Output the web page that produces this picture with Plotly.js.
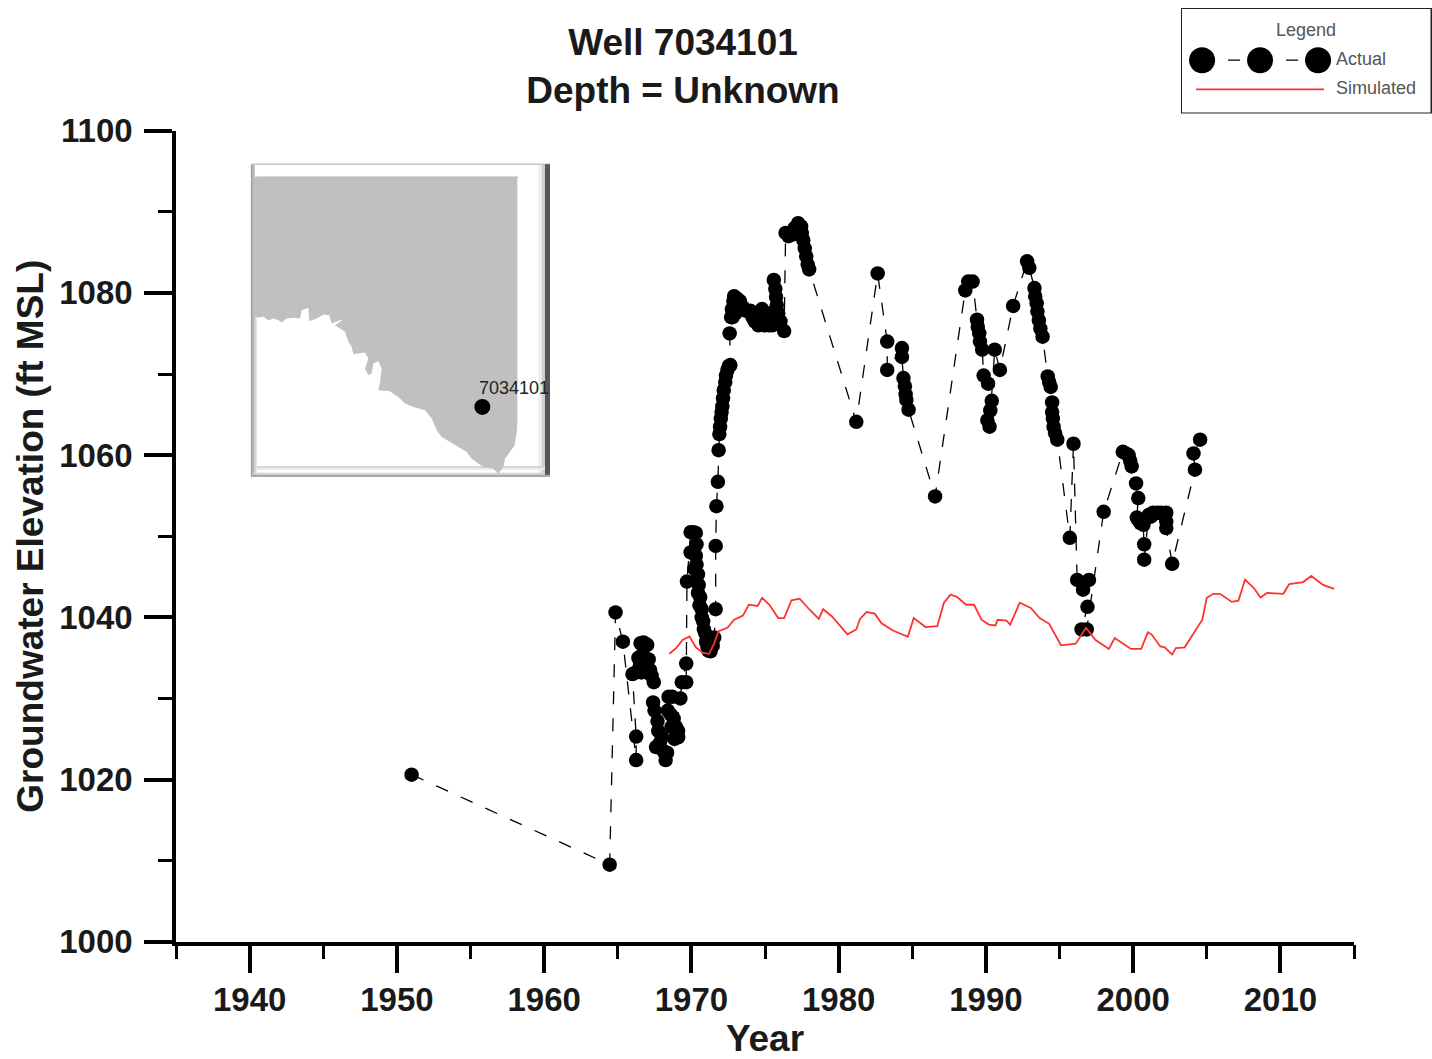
<!DOCTYPE html>
<html>
<head>
<meta charset="utf-8">
<script src="https://cdn.plot.ly/plotly-3.0.1.min.js"></script>
<style>html,body{margin:0;padding:0;background:#fff}#chart{width:1432px;height:1059px}</style>
</head>
<body>
<div id="chart"></div>
<script>
const actualYear = [1951.0,1964.45,1964.85,1965.35,1966.25,1966.25,
 1966.0,1966.3,1966.5,1966.4,1966.55,1966.75,1967.0,1966.7,1966.85,1966.6,1967.0,1967.1,1967.2,1967.3,1967.45,
 1967.4,1967.5,1967.7,1967.75,1967.6,1967.85,1968.0,1968.1,1968.25,1968.35,1968.45,1968.7,1968.4,1968.6,1968.8,1968.65,1968.95,1969.1,1969.1,1968.85,1969.25,1969.35,1969.65,1969.65,
 1969.7,1969.95,1970.15,1970.3,1970.35,1969.95,1970.15,1970.3,1970.35,1970.2,1970.45,1970.3,1970.5,1970.45,1970.6,1970.55,1970.7,1970.7,1970.8,1970.85,1970.95,1971.0,1971.1,1971.15,1971.3,1971.45,1971.55,
 1971.65,1971.65,1971.7,1971.8,1971.85,1971.9,1971.95,1972.0,1972.05,1972.1,1972.15,1972.2,1972.3,1972.35,1972.45,1972.55,1972.65,
 1972.6,1972.7,1972.75,1972.85,1972.9,1973.1,1973.3,1972.8,1973.0,1973.5,1973.7,1974.0,1974.15,1974.3,1974.55,1974.6,1974.8,1975.0,1975.0,1975.3,1975.4,1975.5,1975.6,1975.7,1975.75,1975.8,1975.9,1976.05,1976.3,
 1976.4,1976.6,1976.85,1977.0,1977.25,1977.45,1977.5,1977.6,1977.7,1977.8,1977.9,1978.0,
 1981.2,1982.65,1983.3,1983.3,1984.3,1984.3,1984.4,1984.5,1984.55,1984.6,1984.75,
 1986.55,1988.6,1988.8,1989.1,1989.4,1989.45,1989.55,1989.6,1989.75,1989.85,1990.15,1990.4,1990.3,1990.1,1990.25,1990.6,1990.95,
 1991.85,1992.8,1992.95,1993.3,1993.35,1993.45,1993.5,1993.6,1993.7,1993.85,1994.2,1994.3,1994.4,1994.5,1994.5,1994.55,1994.6,1994.7,1994.85,
 1995.7,1995.95,1996.2,1997.0,1996.6,1996.9,1996.5,1996.85,
 1998.0,1999.3,1999.5,1999.7,1999.8,1999.9,2000.2,2000.35,2000.25,2000.35,2000.5,2000.7,2000.75,2000.75,2001.05,2001.2,2001.35,2001.5,2001.65,2001.9,2002.1,2002.25,2002.25,2002.25,2002.65,
 2004.2,2004.1,2004.55];
const actualElev = [1020.6,1009.5,1040.6,1037.0,1022.4,1025.3,
 1033.0,1033.3,1034.0,1035.0,1036.8,1036.9,1036.6,1035.5,1034.5,1033.2,1033.2,1034.8,1033.5,1032.8,1032.0,
 1029.5,1028.5,1027.2,1026.0,1024.0,1024.5,1025.2,1023.5,1022.4,1023.3,1030.2,1030.2,1028.5,1028.0,1027.5,1026.5,1026.5,1026.0,1025.2,1025.0,1030.0,1032.0,1034.3,1032.0,
 1044.4,1050.5,1050.5,1050.4,1049.0,1048.0,1048.0,1047.6,1046.5,1046.0,1045.3,1044.5,1044.0,1043.0,1042.5,1041.5,1041.0,1040.0,1039.5,1038.5,1038.0,1037.0,1036.3,1035.9,1035.8,1036.5,1037.5,
 1041.0,1048.8,1053.7,1056.7,1060.6,1062.6,1063.5,1064.5,1065.3,1066.0,1067.0,1068.0,1069.0,1069.8,1070.5,1071.0,1071.1,
 1075.0,1077.0,1078.0,1079.0,1079.6,1079.3,1079.0,1077.0,1077.5,1078.2,1077.8,1077.8,1077.0,1076.5,1076.0,1077.5,1078.0,1077.5,1076.0,1076.0,1077.5,1076.0,1081.6,1080.5,1079.5,1078.5,1077.5,1076.5,1075.3,
 1087.4,1087.0,1087.2,1088.0,1088.6,1088.2,1087.4,1086.5,1085.5,1084.5,1083.5,1082.9,
 1064.1,1082.4,1074.0,1070.5,1073.2,1072.1,1069.5,1068.5,1067.5,1066.8,1065.6,
 1054.9,1080.3,1081.4,1081.4,1076.7,1075.8,1075.0,1074.0,1073.0,1069.8,1068.8,1066.7,1065.5,1064.3,1063.5,1073.0,1070.5,
 1078.4,1083.9,1083.1,1080.6,1079.6,1078.7,1077.7,1076.6,1075.6,1074.6,1069.7,1069.0,1068.4,1066.5,1065.3,1064.5,1063.5,1062.7,1061.9,
 1049.8,1061.4,1044.6,1044.6,1043.4,1041.3,1038.5,1038.5,
 1053.0,1060.4,1060.2,1060.0,1059.3,1058.6,1056.5,1054.7,1052.3,1052.0,1051.6,1051.4,1049.0,1047.1,1052.6,1052.4,1052.9,1052.8,1052.9,1052.9,1052.7,1052.9,1051.8,1051.0,1046.6,
 1058.2,1060.2,1061.9];

const simYear = [1968.5,1968.96,1969.4,1969.87,1970.3,1970.8,1971.2,1971.5,1971.85,1972.45,1972.9,1973.5,1973.9,1974.5,1974.8,1975.3,1975.9,1976.3,1976.8,1977.35,1978.05,1978.65,1978.95,1979.55,1980.6,1981.2,1981.45,1981.9,1982.45,1982.9,1983.65,1984.7,1985.1,1985.9,1986.7,1987.15,1987.6,1988.05,1988.65,1989.2,1989.7,1990.2,1990.65,1990.8,1991.4,1991.65,1992.3,1993.05,1993.65,1994.3,1995.1,1996.1,1996.8,1997.45,1998.35,1998.75,1999.85,2000.55,2001.0,2001.25,2001.85,2002.15,2002.65,2002.9,2003.5,2004.0,2004.7,2005.0,2005.45,2005.9,2006.7,2007.15,2007.6,2008.2,2008.65,2009.1,2010.2,2010.6,2011.55,2012.1,2012.9,2013.65];
const simElev = [1035.5,1036.2,1037.2,1037.65,1036.3,1035.6,1035.5,1036.6,1038.3,1038.7,1039.7,1040.2,1041.55,1041.4,1042.4,1041.55,1039.9,1039.9,1042.1,1042.3,1040.9,1039.8,1041.0,1040.1,1037.9,1038.5,1039.8,1040.65,1040.45,1039.3,1038.4,1037.6,1039.9,1038.8,1038.9,1041.8,1042.8,1042.5,1041.55,1041.55,1039.7,1039.1,1039.0,1039.7,1039.6,1039.1,1041.8,1041.15,1039.9,1039.2,1036.55,1036.75,1038.7,1037.2,1036.1,1037.45,1036.1,1036.1,1038.15,1037.9,1036.4,1036.3,1035.4,1036.2,1036.3,1037.65,1039.7,1042.4,1042.9,1042.9,1041.9,1042.05,1044.65,1043.6,1042.45,1043.0,1042.9,1044.1,1044.35,1045.1,1044.0,1043.5];

const mapEast = [40,832,832,830,822,820,795,790,775,760,730,695,680,640,605,590,575,555,520,495,480,450,415,420,425,415,400,395,385,375,385,375,340,335,325,315,285,310,300,275,268,250,230,208,205,185,180,165,140,125,115,100,85,70,55,40,40];
const mapNorth = [65,65,800,835,875,875,910,935,955,940,935,910,890,865,845,825,790,765,755,745,730,708,705,680,640,618,625,655,660,640,610,592,597,575,560,530,510,492,495,505,480,478,490,498,458,465,490,488,490,502,495,490,495,485,487,483,65];
const wellEast = [727];
const wellNorth = [755];

const legendActualX = [0.084,0.315,0.546];
const legendActualY = [0.505,0.505,0.505];
const legendSimX = [0.06,0.57];
const legendSimY = [0.229,0.229];

const W = 1432, H = 1059;
const font = 'Liberation Sans, Arial, sans-serif';
const fx = p => p / W, fy = p => 1 - p / H;

const traces = [
  {name:'Actual', x:actualYear, y:actualElev, xaxis:'x', yaxis:'y', mode:'lines+markers',
   line:{color:'#000', width:1.3, dash:'13px,14px'}, marker:{color:'#000', size:14.5}},
  {name:'Simulated', x:simYear, y:simElev, xaxis:'x', yaxis:'y', mode:'lines',
   line:{color:'#ff3232', width:1.8}},
  {name:'Map', x:mapEast, y:mapNorth, xaxis:'x2', yaxis:'y2', mode:'lines', fill:'toself',
   fillcolor:'#c0c0c0', line:{width:0}, hoverinfo:'skip'},
  {name:'Well', x:wellEast, y:wellNorth, xaxis:'x2', yaxis:'y2', mode:'markers',
   marker:{color:'#000', size:16}},
  {name:'Actual', x:legendActualX, y:legendActualY, xaxis:'x3', yaxis:'y3', mode:'lines+markers',
   line:{color:'#000', width:1.3, dash:'0px,26px,12px,20px'}, marker:{color:'#000', size:26}, hoverinfo:'skip'},
  {name:'Simulated', x:legendSimX, y:legendSimY, xaxis:'x3', yaxis:'y3', mode:'lines',
   line:{color:'#ff3232', width:1.8}, hoverinfo:'skip'}
];

const band = (x0,x1,y0,y1,c) => ({type:'rect', xref:'x2', yref:'y2', x0, x1, y0, y1, fillcolor:c, line:{width:0}, layer:'below'});
const bevel = [
  band(32,930,25,965,'#ffffff'),
  band(32,930,25,30,'#c8c8c8'),
  band(50,835,64,70,'#d8d8d8'),
  band(32,38,30,965,'#9a9a9a'), band(38,44,30,965,'#b4b4b4'), band(44,50,70,965,'#d8d8d8'),
  band(895,905,30,960,'#ededed'), band(905,915,30,960,'#cfcfcf'), band(915,930,28,962,'#555555'),
  band(50,915,932,938,'#d8d8d8'), band(50,915,938,944,'#ececec'),
  band(38,915,952,958,'#d4d4d4'), band(32,930,958,965,'#a8a8a8'),
  {type:'rect', xref:'x3', yref:'y3', x0:0, x1:0.998, y0:0, y1:1, fillcolor:'#fff', line:{color:'#222', width:2}, layer:'below'}
];

const layout = {
  width:W, height:H, autosize:false, showlegend:false,
  paper_bgcolor:'#fff', plot_bgcolor:'rgba(0,0,0,0)',
  margin:{l:0,r:0,t:0,b:0,pad:0},
  font:{family:font, color:'#111'},
  title:{text:'Well 7034101<br>Depth = Unknown', font:{family:font, size:37, color:'#1a1a1a', weight:700},
         x:fx(683), xanchor:'center', xref:'paper', y:fy(55), yanchor:'middle', yref:'paper'},
  xaxis:{domain:[fx(176),fx(1354)], range:[1935,2015], tick0:1940, dtick:10, anchor:'y',
    ticks:'outside', ticklen:28, tickwidth:3.5, tickcolor:'#000', showline:true, linecolor:'#000', linewidth:3.5,
    showgrid:false, zeroline:false, automargin:false, ticklabelstandoff:-2,
    tickfont:{family:font, size:33, color:'#1a1a1a', weight:700},
    minor:{tick0:1935, dtick:10, ticks:'outside', ticklen:14, tickwidth:3, tickcolor:'#000', showgrid:false},
    title:{text:'Year', standoff:24, font:{family:font, size:37, color:'#1a1a1a', weight:700}}},
  yaxis:{domain:[fy(941.7),fy(130.7)], range:[1000,1100], tick0:1000, dtick:20, anchor:'x',
    ticks:'outside', ticklen:28, tickwidth:3.5, tickcolor:'#000', showline:true, linecolor:'#000', linewidth:3.5,
    showgrid:false, zeroline:false, automargin:false, ticklabelstandoff:5,
    tickfont:{family:font, size:33, color:'#1a1a1a', weight:700},
    minor:{tick0:1010, dtick:20, ticks:'outside', ticklen:14, tickwidth:3, tickcolor:'#000', showgrid:false},
    title:{text:'Groundwater Elevation (ft MSL)', standoff:5, font:{family:font, size:37, color:'#1a1a1a', weight:700}}},
  xaxis2:{domain:[fx(250.7),fx(550)], range:[32,930], visible:false, anchor:'y2', fixedrange:true},
  yaxis2:{domain:[fy(477),fy(163.3)], range:[965,25], visible:false, anchor:'x2', fixedrange:true},
  xaxis3:{domain:[fx(1181),1], range:[0,1], visible:false, anchor:'y3', fixedrange:true},
  yaxis3:{domain:[fy(113.5),fy(8)], range:[0,1], visible:false, anchor:'x3', fixedrange:true},
  shapes:bevel,
  annotations:[
    {text:'7034101', xref:'x2', yref:'y2', x:711, y:699, xanchor:'left', yanchor:'middle', showarrow:false, font:{family:font,size:18,color:'#222'}},
    {text:'Legend', xref:'x3', yref:'y3', x:0.496, y:0.79, xanchor:'center', yanchor:'middle', showarrow:false, font:{family:font,size:18,color:'#555'}},
    {text:'Actual', xref:'x3', yref:'y3', x:0.61, y:0.515, xanchor:'left', yanchor:'middle', showarrow:false, font:{family:font,size:18,color:'#555'}},
    {text:'Simulated', xref:'x3', yref:'y3', x:0.61, y:0.238, xanchor:'left', yanchor:'middle', showarrow:false, font:{family:font,size:18,color:'#555'}}
  ]
};
Plotly.newPlot('chart', traces, layout, {displayModeBar:false, responsive:false});
</script>
</body>
</html>
